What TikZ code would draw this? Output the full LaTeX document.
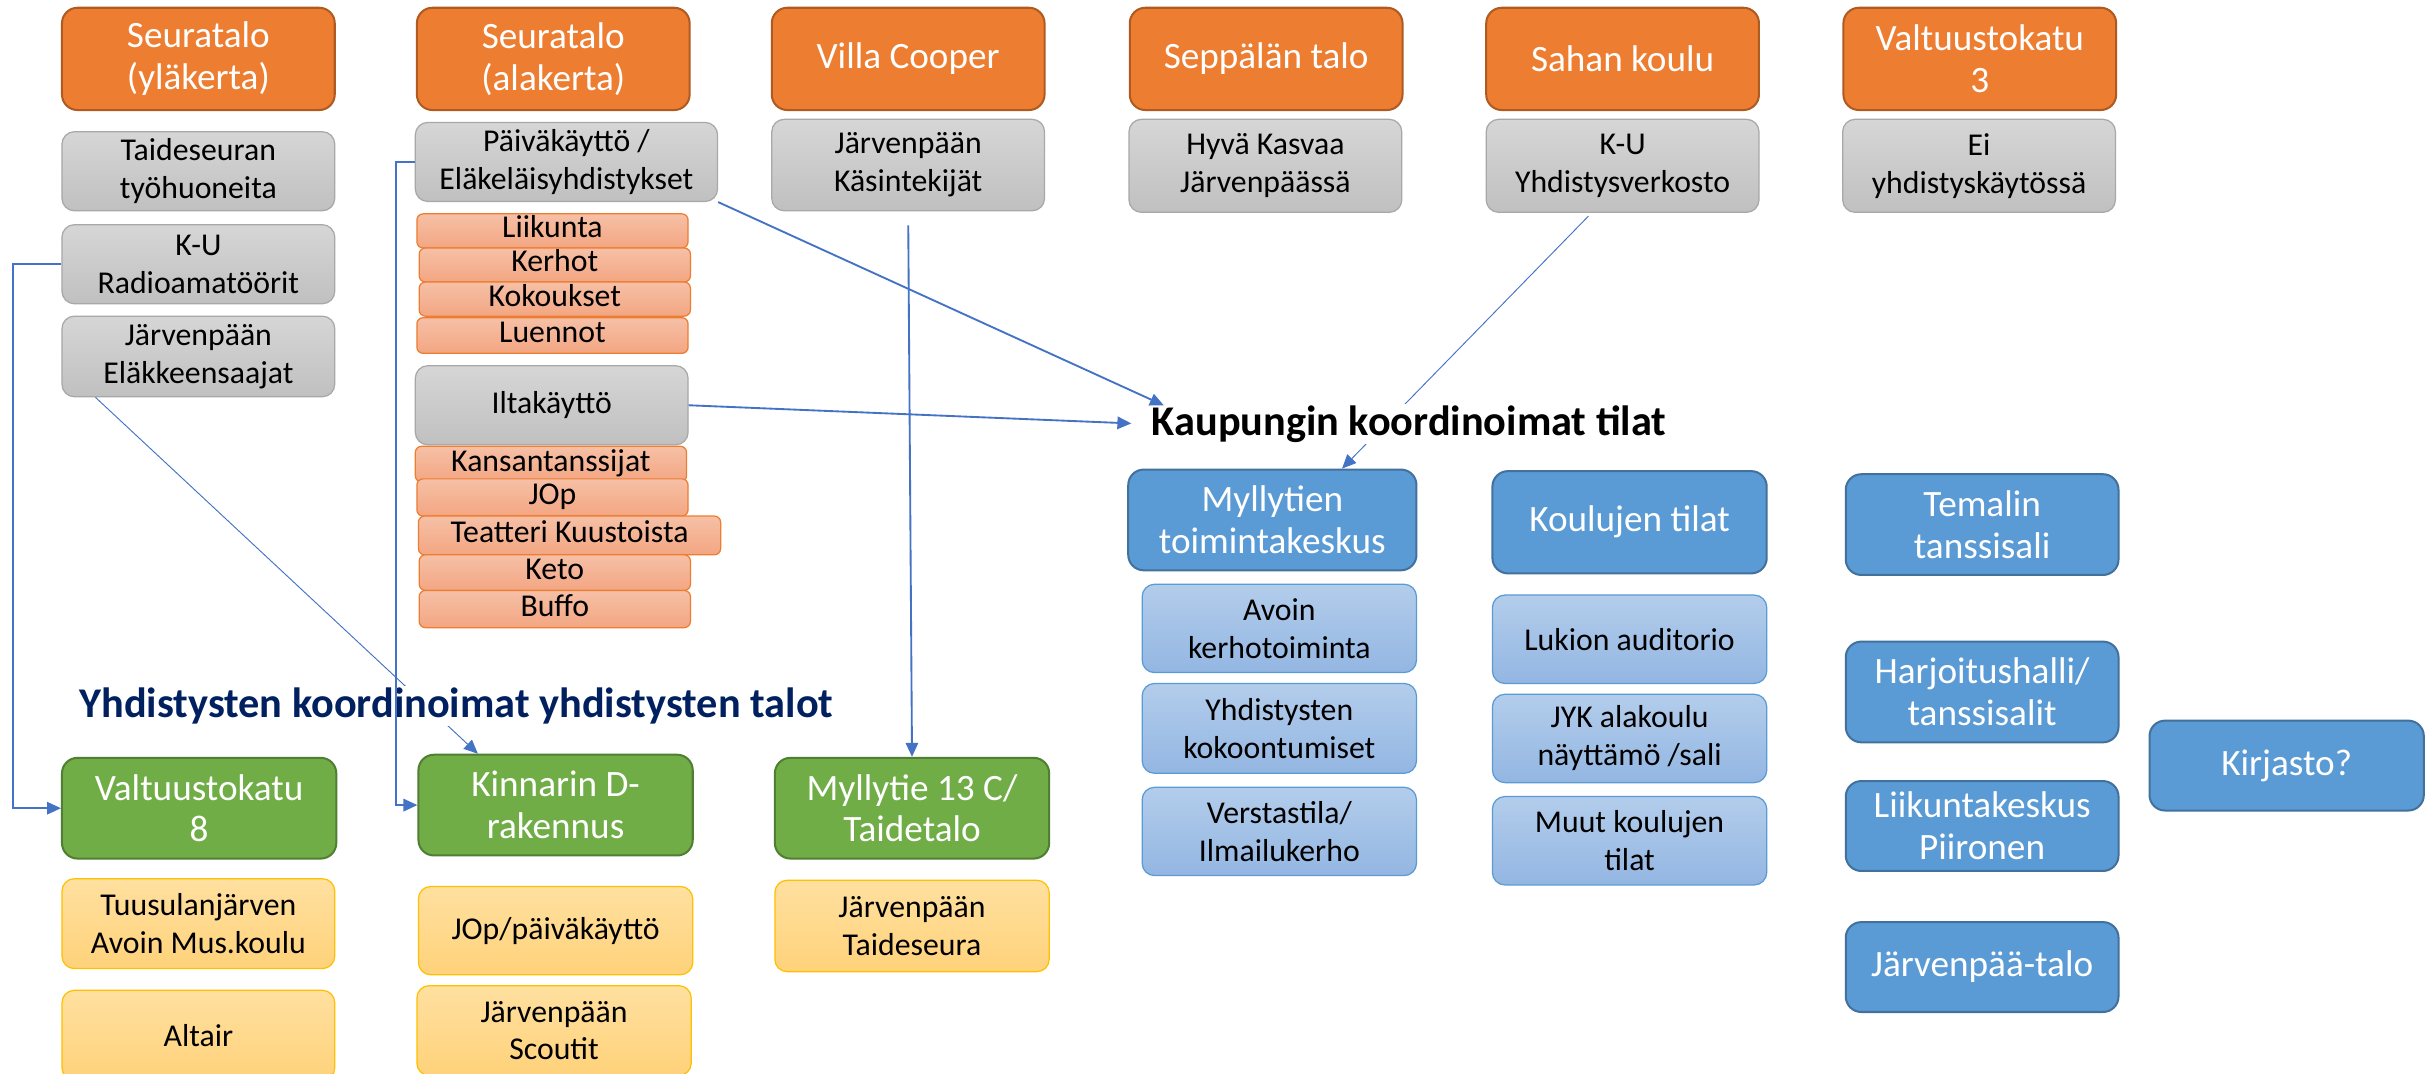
\documentclass[tikz,border=0pt]{standalone}
\usepackage{fontspec}
\setmainfont{Carlito}
\usetikzlibrary{arrows.meta,calc}
\definecolor{orH}{HTML}{ED7D31}
\definecolor{orB}{HTML}{AE5A21}
\definecolor{grT}{HTML}{D6D6D6}
\definecolor{grB}{HTML}{C0C0C0}
\definecolor{grE}{HTML}{A8A8A8}
\definecolor{saT}{HTML}{F6C0A6}
\definecolor{saB}{HTML}{F3A682}
\definecolor{gnF}{HTML}{70AD47}
\definecolor{gnB}{HTML}{507E32}
\definecolor{ylT}{HTML}{FFE0A0}
\definecolor{ylB}{HTML}{FFD27A}
\definecolor{ylE}{HTML}{FFC000}
\definecolor{blF}{HTML}{5B9BD5}
\definecolor{blB}{HTML}{41719C}
\definecolor{lbT}{HTML}{B3CDEB}
\definecolor{lbB}{HTML}{93B6E2}
\definecolor{navy}{HTML}{002060}
\definecolor{lnC}{HTML}{4472C4}
\begin{document}
\begin{tikzpicture}[x=1pt,y=-1pt,
  box/.style={rounded corners=8pt, align=center, inner sep=2pt, text=black},
  hdr/.style={box, rounded corners=10pt, fill=orH, draw=orB, line width=1.3pt, text=white,
    font=\fontsize{24}{27}\selectfont, minimum width=176pt, minimum height=66pt},
  gry/.style={box, top color=grT, bottom color=grB, draw=grE, line width=0.8pt,
    font=\fontsize{20.5}{24.5}\selectfont, minimum width=176pt},
  stk/.style={box, rounded corners=4pt, top color=saT, bottom color=saB, draw=orH, line width=0.8pt,
    font=\fontsize{20.5}{24}\selectfont, minimum width=175pt, inner sep=0pt, text height=13pt, text depth=4pt},
  grn/.style={box, rounded corners=10pt, fill=gnF, draw=gnB, line width=1.3pt, text=white,
    font=\fontsize{24}{27}\selectfont, minimum width=177pt, minimum height=65pt},
  ylw/.style={box, top color=ylT, bottom color=ylB, draw=ylE, line width=0.8pt,
    font=\fontsize{20.5}{24.5}\selectfont, minimum width=176pt},
  bhd/.style={box, rounded corners=10pt, fill=blF, draw=blB, line width=1.3pt, text=white,
    font=\fontsize{24}{27}\selectfont, minimum width=176pt},
  lbl/.style={box, top color=lbT, bottom color=lbB, draw=blF, line width=0.8pt,
    font=\fontsize{20.5}{24.5}\selectfont, minimum width=177pt},
  ttl/.style={fill=white, inner sep=1pt, anchor=base west, font=\bfseries\fontsize{27.3}{30}\selectfont},
  con/.style={draw=lnC, line width=1.2pt, -{Triangle[length=9pt,width=8pt]}},
  thn/.style={con, line width=0.6pt}]
\useasboundingbox (0,0) rectangle (1568,693);
\fill[white] (0,0) rectangle (1568,693);
% orange headers
\node[hdr] (sy) at (128,38) {Seuratalo\\(yläkerta)};
\node[hdr] (sa) at (357,38) {Seuratalo\\(alakerta)};
\node[hdr] (vc) at (586,38) {Villa Cooper};
\node[hdr] (sp) at (817,38) {Seppälän talo};
\node[hdr] (sk) at (1047,38) {Sahan koulu};
\node[hdr] (v3) at (1277.5,38) {Valtuustokatu\\3};
% gray boxes
\node[gry, minimum height=51pt] (taid) at (128,110.5) {Taideseuran\\työhuoneita};
\node[gry, minimum height=51pt] (kur) at (128,170.5) {K-U\\Radioamatöörit};
\node[gry, minimum height=52pt] (elak) at (128,230) {Järvenpään\\Eläkkeensaajat};
\node[gry, minimum height=51pt, minimum width=195pt] (paiv) at (365.5,104.5) {Päiväkäyttö /\\Eläkeläisyhdistykset};
\node[gry, minimum height=59pt] (kasi) at (586,106.5) {Järvenpään\\Käsintekijät};
\node[gry, minimum height=60pt] (hyva) at (816.5,107) {Hyvä Kasvaa\\Järvenpäässä};
\node[gry, minimum height=60pt] (kuy) at (1047,107) {K-U\\Yhdistysverkosto};
\node[gry, minimum height=60pt] (ei) at (1277,107) {Ei\\yhdistyskäytössä};
% day use stack
\node[stk, minimum height=22pt] (liik) at (356.5,149) {Liikunta};
\node[stk, minimum height=22pt] (kerh) at (358,171) {Kerhot};
\node[stk, minimum height=22pt] (koko) at (358,193) {Kokoukset};
\node[stk, minimum height=23pt] (luen) at (356.5,216.5) {Luennot};
\node[gry, minimum height=51pt] (ilta) at (356,261.5) {Iltakäyttö};
\node[stk, minimum height=23pt] (kans) at (355.5,299.5) {Kansantanssijat};
\node[stk, minimum height=24pt] (jop) at (356.5,321) {JOp};
\node[stk, minimum height=25pt, minimum width=195pt] (teat) at (367.5,345.5) {Teatteri Kuustoista};
\node[stk, minimum height=23pt] (keto) at (358,369.5) {Keto};
\node[stk, minimum height=24pt] (buff) at (358,393) {Buffo};
% green
\node[grn] (v8) at (128.5,521.5) {Valtuustokatu\\8};
\node[grn] (kinn) at (358.5,519.5) {Kinnarin D-\\rakennus};
\node[grn] (m13) at (588.5,521.5) {Myllytie 13 C/\\Taidetalo};
% yellow
\node[ylw, minimum height=58pt] (tuus) at (128,596) {Tuusulanjärven\\Avoin Mus.koulu};
\node[ylw, minimum height=58pt] (alt) at (128,668) {Altair};
\node[ylw, minimum height=57pt, minimum width=177pt] (jopp) at (358.5,600.5) {JOp/päiväkäyttö};
\node[ylw, minimum height=58pt, minimum width=177pt] (scou) at (357.5,665) {Järvenpään\\Scoutit};
\node[ylw, minimum height=59pt, minimum width=177pt] (taij) at (588.5,597.5) {Järvenpään\\Taideseura};
% blue headers
\node[bhd, minimum height=65pt, minimum width=186pt] (mtk) at (821,335.5) {Myllytien\\toimintakeskus};
\node[bhd, minimum height=66pt, minimum width=177pt] (koul) at (1051.5,337) {Koulujen tilat};
\node[bhd, minimum height=65pt] (tem) at (1279,338.5) {Temalin\\tanssisali};
\node[bhd, minimum height=65pt] (harj) at (1279,446.5) {Harjoitushalli/\\tanssisalit};
\node[bhd, minimum height=58pt] (liks) at (1279,533) {Liikuntakeskus\\Piironen};
\node[bhd, minimum height=58pt] (jtal) at (1279,624) {Järvenpää-talo};
\node[bhd, minimum height=58pt, minimum width=177pt] (kirj) at (1475.5,494) {Kirjasto?};
% light blue
\node[lbl, minimum height=57pt] (avoi) at (825.5,405.5) {Avoin\\kerhotoiminta};
\node[lbl, minimum height=58pt] (yhdk) at (825.5,470) {Yhdistysten\\kokoontumiset};
\node[lbl, minimum height=57pt] (vers) at (825.5,536.5) {Verstastila/\\Ilmailukerho};
\node[lbl, minimum height=57pt] (luki) at (1051.5,412.5) {Lukion auditorio};
\node[lbl, minimum height=57pt] (jyk) at (1051.5,476.5) {JYK alakoulu\\näyttämö /sali};
\node[lbl, minimum height=57pt] (muut) at (1051.5,542.5) {Muut koulujen\\tilat};
% thin connectors (under titles)
\draw[thn] ($(elak.south west)+(22,0)$) -- ($(kinn.north west)+(39,0)$);
\draw[thn] ($(kuy.south)+(-22,2)$) -- ($(mtk.north)+(45,0)$);
% titles
\node[ttl, text=navy] (yk) at (50,463) {Yhdistysten koordinoimat yhdistysten talot};
\node[ttl, text=black] (kaup) at (742,281) {Kaupungin koordinoimat tilat};
% thick connectors
\draw[con] (kur.west) -- ++(-31,0) |- (v8.west);
\draw[con] (paiv.west) -- ++(-12,0) |- (kinn.west);
\draw[con] (paiv.south east) -- ($(kaup.north west)+(9,1)$);
\draw[con, shorten >=12pt] (ilta.east) -- (kaup.west);
\draw[con, shorten <=9pt] (kasi.south) -- (m13.north);
\end{tikzpicture}
\end{document}
